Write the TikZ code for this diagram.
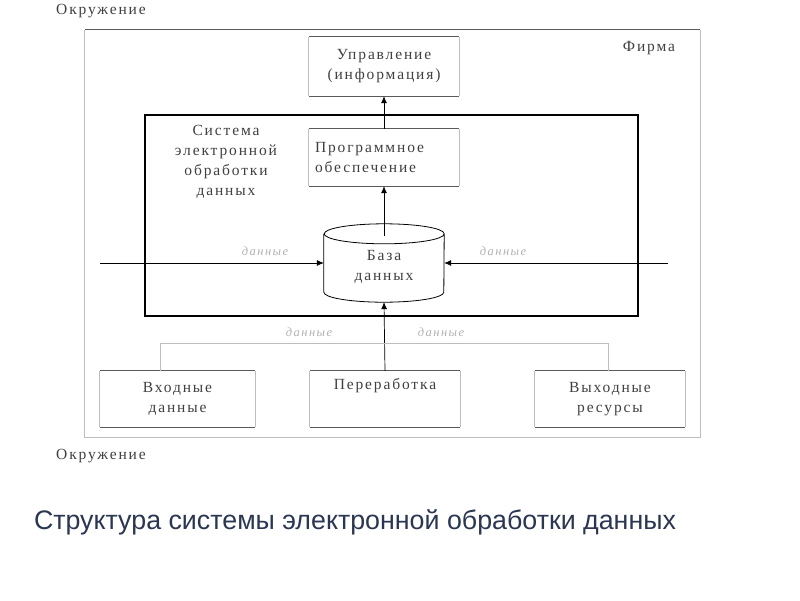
\documentclass[tikz,border=0pt]{standalone}
\usepackage{fontspec}
\setmainfont{Liberation Serif}
\newfontfamily\diagfont[LetterSpace=12]{Liberation Serif}
\newfontfamily\capfont{Liberation Sans}
\usetikzlibrary{arrows.meta}
\definecolor{captc}{HTML}{2B3752}
\definecolor{hline}{HTML}{5A5A5A}
\definecolor{vline}{HTML}{BDBDBD}
\tikzset{
  txt/.style={font=\diagfont\fontsize{15.5}{20}\selectfont, text=black!75, align=center, inner sep=0pt},
  blk/.style={draw=none, minimum width=#1, minimum height=56pt, inner sep=0pt, font=\diagfont\fontsize{15.5}{20}\selectfont, text=black!75, align=center},
  dlabel/.style={font=\diagfont\itshape\fontsize{12.5}{14}\selectfont, text=black!30, inner sep=0pt},
  arr/.style={-{Latex[length=7pt,width=6pt]}, black},
  flow/.style={draw=hline, line width=0.7pt},
  thin/.style={draw=vline, line width=0.7pt},
}
\newcommand{\boxlines}[1]{%
  \draw[hline, line width=0.8pt] (#1.north west) -- (#1.north east);
  \draw[hline, line width=0.8pt] (#1.south west) -- (#1.south east);
  \draw[vline, line width=0.7pt] (#1.north west) -- (#1.south west);
  \draw[vline, line width=0.7pt] (#1.north east) -- (#1.south east);}
\begin{document}
\begin{tikzpicture}[x=1pt, y=-1pt]
\useasboundingbox[fill=white] (0,0) rectangle (800,600);
% environment labels
\node[txt] (env1) at (101,11) {Окружение};
\node[txt] (env2) at (101,456) {Окружение};
% firm
\node[draw=none, minimum width=615pt, minimum height=407pt, inner sep=0pt] (firm) at (392.5,233.5) {};
\draw[hline, line width=0.8pt] (firm.north west) -- (firm.north east);
\draw[vline, line width=0.8pt] (firm.north west) -- (firm.south west) -- (firm.south east) -- (firm.north east);
\node[txt] (firmlbl) at (649,48) {Фирма};
% control
\node[blk=150pt, minimum height=59pt] (ctrl) at (384,66.5) {Управление\\(информация)};
\boxlines{ctrl}
% system
\node[draw=black, line width=2pt, minimum width=493pt, minimum height=201pt, inner sep=0pt] (sys) at (391.5,215.5) {};
\node[txt] (syslbl) at (226,162) {Система\\электронной\\обработки\\данных};
% software
\node[blk=150pt, minimum height=57pt, align=left, text width=138pt] (soft) at (384,157.5) {Программное\\обеспечение};
\boxlines{soft}
% database cylinder
\node[draw=none, minimum width=120pt, minimum height=78pt, inner sep=0pt] (db) at (384,263) {};
\draw[black, line width=0.8pt]
  ([yshift=-10pt]db.north west) -- ([yshift=10pt]db.south west)
  arc[start angle=180, end angle=360, x radius=60pt, y radius=10pt]
  -- ([yshift=-10pt]db.north east)
  arc[start angle=0, end angle=360, x radius=60pt, y radius=10pt];
\node[txt] (dblbl) at (384,267) {База\\данных};
% bottom blocks
\node[blk=155pt] (inp) at (177.5,399) {Входные\\данные};
\boxlines{inp}
\node[blk=150pt] (proc) at (385,399) {};
\boxlines{proc}
\node[txt] (proclbl) at (385,386) {Переработка};
\node[blk=150pt] (outp) at (610,399) {Выходные\\ресурсы};
\boxlines{outp}
% flows
\coordinate (lin) at (100,263);
\coordinate (rin) at (668,263);
\draw[flow, arr] (lin) -- (db.west);
\draw[flow, arr] (rin) -- (db.east);
\draw[arr, line width=0.7pt] ([yshift=-12pt]db.north) -- (soft.south);
\draw[arr, line width=0.7pt] (soft.north) -- (ctrl.south);
\draw[thin, arr] (proc.north) -- (db.south);
\coordinate (bl) at (160,343);
\coordinate (br) at (608,343);
\draw[thin] (inp.north -| bl) -- (bl) -- (br) -- (outp.north -| br);
% data labels
\node[dlabel] (d1) at (265,251) {данные};
\node[dlabel] (d2) at (503,251) {данные};
\node[dlabel] (d3) at (309,332) {данные};
\node[dlabel] (d4) at (441,332) {данные};
% caption
\node[font=\capfont\fontsize{26.8}{30}\selectfont, text=captc, inner sep=0pt] (cap) at (355,522) {Структура системы электронной обработки данных};
\end{tikzpicture}
\end{document}
